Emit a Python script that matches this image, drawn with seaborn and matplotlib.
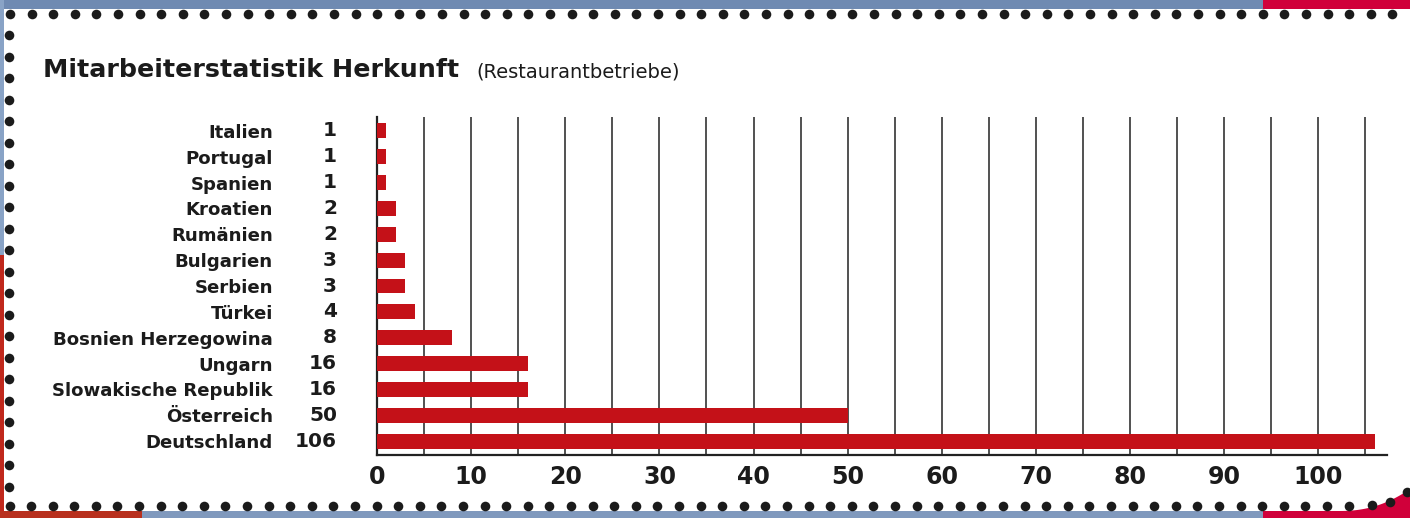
import numpy as np
import pandas as pd
import matplotlib
matplotlib.use("Agg")
import matplotlib.pyplot as plt
import matplotlib.transforms as mtransforms
from matplotlib.ticker import MultipleLocator
from matplotlib.patches import Rectangle, Polygon
import seaborn as sns

# ---- data ----
countries = ["Italien", "Portugal", "Spanien", "Kroatien", "Rumänien", "Bulgarien",
             "Serbien", "Türkei", "Bosnien Herzegowina", "Ungarn",
             "Slowakische Republik", "Österreich", "Deutschland"]
counts = [1, 1, 1, 2, 2, 3, 3, 4, 8, 16, 16, 50, 106]
x_ticks = [0, 10, 20, 30, 40, 50, 60, 70, 80, 90, 100]
title = "Mitarbeiterstatistik Herkunft"
subtitle = "(Restaurantbetriebe)"

sns.set_style("white")
plt.rcParams["font.family"] = ["DejaVu Sans"]

W, H = 1410, 518
fig = plt.figure(figsize=(W / 100, H / 100), dpi=100)
fig.patch.set_facecolor("white")

# ---- decorative frame (pixel coordinates) ----
deco = fig.add_axes([0, 0, 1, 1], zorder=-1)
deco.set_xlim(0, W)
deco.set_ylim(H, 0)
deco.axis("off")
blue = "#6f8ab2"
red_top = "#d0003a"
red_left = "#c0281c"
deco.add_patch(Rectangle((0, 0), 1263, 9, color=blue, lw=0))
deco.add_patch(Rectangle((1263, 0), W - 1263, 9, color=red_top, lw=0))
deco.add_patch(Rectangle((0, 0), 4, 255, color="#89a3c6", lw=0))
deco.add_patch(Rectangle((0, 255), 4, H - 255, color=red_left, lw=0))
deco.add_patch(Rectangle((0, 511), 142, 7, color="#b8301e", lw=0))
deco.add_patch(Rectangle((142, 511), 1263 - 142, 7, color="#8099bd", lw=0))
xs_curve = np.linspace(1340, W, 40)
ys_curve = 511 - 22 * ((xs_curve - 1340) / (W - 1340)) ** 2.2
poly = [(1263, H), (1263, 511)] + list(zip(xs_curve, ys_curve)) + [(W, H)]
deco.add_patch(Polygon(poly, closed=True, color=red_top, lw=0))
dot_c = "#1b1b1b"
top_x = np.arange(10, 1400, 21.6)
deco.scatter(top_x, np.full_like(top_x, 14), s=48, color=dot_c, lw=0)
left_y = np.arange(35, 500, 21.5)
deco.scatter(np.full_like(left_y, 9), left_y, s=48, color=dot_c, lw=0)
bot_x = np.arange(31, 1360, 21.6)
deco.scatter(bot_x, np.full_like(bot_x, 506), s=48, color=dot_c, lw=0)
deco.scatter([10, 1372, 1390, 1407], [506, 505, 502, 492], s=48, color=dot_c, lw=0)

# ---- titles ----
fig.text(43 / W, 1 - 77 / H, title, fontsize=18.3, fontweight="bold",
         color="#1b1b1b", va="baseline", ha="left")
fig.text(476 / W, 1 - 77 / H, subtitle, fontsize=14, color="#1b1b1b",
         va="baseline", ha="left")

# ---- chart ----
ax = fig.add_axes([377 / W, 63 / H, 1010 / W, (455 - 117) / H])
df = pd.DataFrame({"land": countries, "anzahl": counts})
sns.barplot(data=df, x="anzahl", y="land", orient="h", color="#c41118",
            saturation=1, width=0.58, errorbar=None, ax=ax, zorder=3,
            linewidth=0, edgecolor="none")
ax.set_xlim(0, 107.3)
ax.set_ylim(len(countries) - 1 + 0.54, -0.54)
ax.set_xticks(x_ticks)
ax.xaxis.set_minor_locator(MultipleLocator(5))
ax.grid(True, axis="x", which="both", color="#222222", lw=1.1, zorder=0)
ax.grid(False, axis="y")
ax.set_axisbelow(True)
for s in ["top", "right"]:
    ax.spines[s].set_visible(False)
ax.spines["left"].set_color("#222222")
ax.spines["left"].set_linewidth(1.6)
ax.spines["bottom"].set_color("#222222")
ax.spines["bottom"].set_linewidth(1.6)
ax.tick_params(axis="x", which="both", length=0, pad=7, labelsize=17,
               labelcolor="#1b1b1b")
for lab in ax.get_xticklabels():
    lab.set_fontweight("bold")
ax.tick_params(axis="y", length=0, pad=75, labelsize=13.1, labelcolor="#1b1b1b")
for lab in ax.get_yticklabels():
    lab.set_fontweight("bold")
ax.set_xlabel("")
ax.set_ylabel("")
ax.set_facecolor("none")

trans = mtransforms.blended_transform_factory(ax.transAxes, ax.transData)
for i, v in enumerate(counts):
    ax.text(-40 / 1010, i, str(v), transform=trans, ha="right", va="center",
            fontsize=14.5, fontweight="bold", color="#1b1b1b")

fig.savefig("out.png", dpi=100, facecolor="white")
